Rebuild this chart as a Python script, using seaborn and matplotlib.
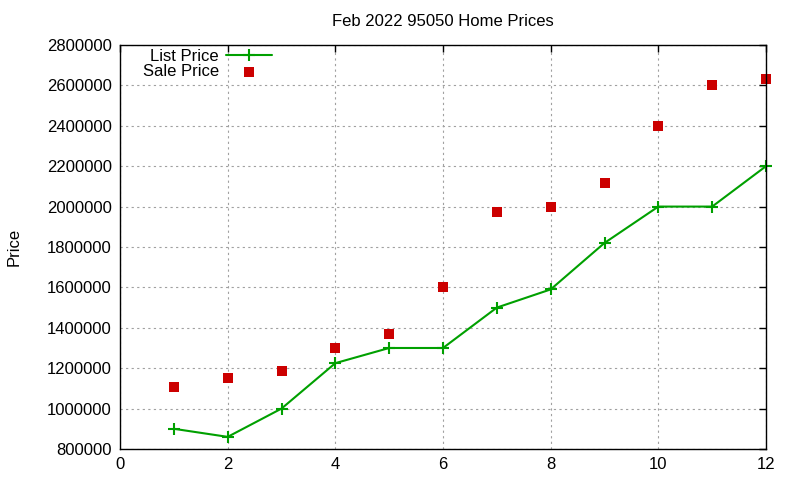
import matplotlib
matplotlib.use("Agg")
import matplotlib.pyplot as plt
import seaborn as sns
import pandas as pd

# data
months = [1, 2, 3, 4, 5, 6, 7, 8, 9, 10, 11, 12]
list_price = [900000, 860000, 1000000, 1225000, 1300000, 1300000,
              1500000, 1590000, 1820000, 2000000, 2000000, 2200000]
sale_price = [1108000, 1152000, 1186000, 1300000, 1370000, 1602000,
              1975000, 2000000, 2118000, 2400000, 2602000, 2632000]

df = pd.DataFrame({"x": months, "list": list_price, "sale": sale_price})

sns.set_style("white")
plt.rcParams['font.family'] = ['Liberation Sans', 'DejaVu Sans']
plt.rcParams['text.color'] = 'black'
plt.rcParams['axes.labelcolor'] = 'black'

fig = plt.figure(figsize=(8, 4.8), dpi=100)
ax = fig.add_axes([0.15, 0.0646, 0.8075, 0.8417])

green = "#00a000"
red = "#cc0000"
sns.lineplot(data=df, x="x", y="list", ax=ax, color=green, linewidth=1.5,
             marker="+", markersize=8, markeredgewidth=1.5,
             markeredgecolor=green, label="List Price", clip_on=False)
sns.scatterplot(data=df, x="x", y="sale", ax=ax, color=red, marker="s",
                s=42, linewidth=0, label="Sale Price", clip_on=False)

ax.set_xlim(0, 12)
ax.set_ylim(800000, 2800000)
ax.set_xticks(range(0, 13, 2))
ax.set_yticks(range(800000, 2800001, 200000))
ax.set_yticklabels([str(v) for v in range(800000, 2800001, 200000)])
ax.tick_params(direction="in", top=True, right=True, length=5, width=1,
               labelsize=12, colors="black", pad=6)
for s in ax.spines.values():
    s.set_color("black")
    s.set_linewidth(1)
ax.grid(True, color="#a0a0a0", linestyle=(0, (2, 3)), linewidth=0.8)

ax.set_xlabel("")
ax.set_ylabel("Price", fontsize=12, labelpad=18)
ax.set_title("Feb 2022 95050 Home Prices", fontsize=12, pad=14)

leg = ax.legend(loc="upper left", bbox_to_anchor=(0.02, 1.015), frameon=False,
                markerfirst=False, fontsize=12, handlelength=2.8,
                handletextpad=0.4, labelspacing=0.0, borderaxespad=0.2)

fig.savefig("out.png", dpi=100)
